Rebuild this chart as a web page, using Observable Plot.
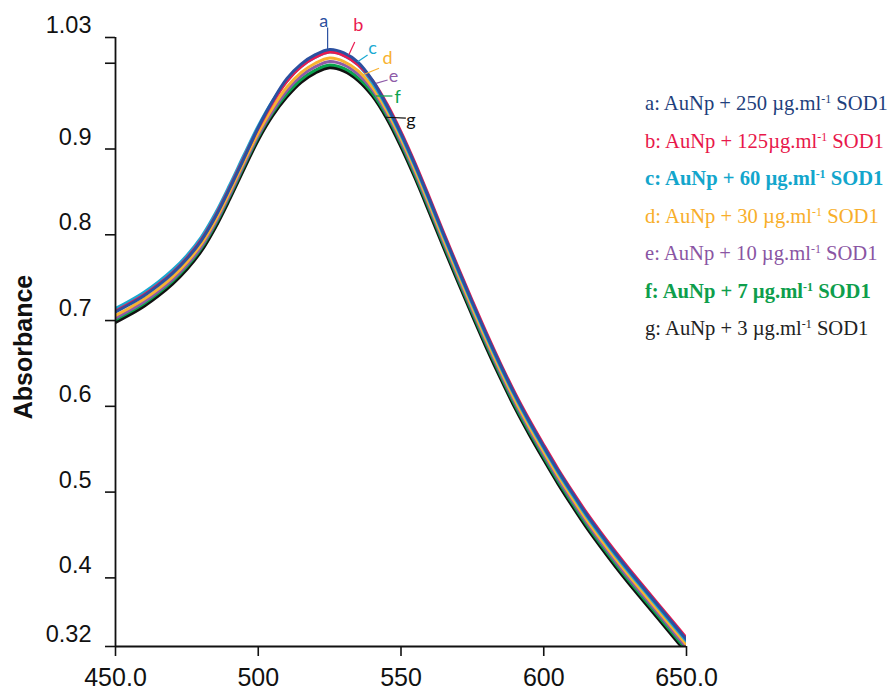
<!DOCTYPE html>
<html><head><meta charset="utf-8">
<script src="https://cdn.jsdelivr.net/npm/d3@7"></script>
<script src="https://cdn.jsdelivr.net/npm/@observablehq/plot@0.6"></script>
<style>
html,body{margin:0;padding:0;background:#fff;}
#wrap{position:relative;width:893px;height:692px;overflow:hidden;}
#legend{position:absolute;left:645px;top:85px;font-family:"Liberation Serif","Times New Roman",serif;font-size:20.6px;line-height:37.5px;white-space:nowrap;}
#legend sup{font-size:0.58em;line-height:0;vertical-align:0.6em;}
</style></head><body><div id="wrap"><div id="legend"></div></div>
<script>
// ---- data ----
const wavelengths = [450,455,460,465,470,475,480,485,490,495,500,505,510,515,520,525,530,535,540,545,550,555,560,565,570,575,580,585,590,595,600,605,610,615,620,625,630,635,640,645,650];
const seriesA = [0.710,0.719,0.729,0.741,0.755,0.772,0.793,0.821,0.854,0.889,0.925,0.956,0.982,0.999,1.010,1.016,1.012,1.001,0.980,0.951,0.918,0.881,0.841,0.800,0.760,0.721,0.683,0.647,0.613,0.582,0.553,0.525,0.499,0.474,0.451,0.429,0.408,0.388,0.368,0.348,0.328];
const seriesB = [0.711,0.720,0.730,0.742,0.756,0.773,0.794,0.822,0.855,0.890,0.924,0.954,0.979,0.996,1.007,1.013,1.009,0.998,0.980,0.953,0.920,0.883,0.843,0.802,0.762,0.723,0.685,0.649,0.615,0.584,0.555,0.527,0.501,0.476,0.453,0.431,0.410,0.390,0.370,0.350,0.330];
const seriesC = [0.714,0.723,0.733,0.745,0.759,0.776,0.797,0.825,0.858,0.893,0.927,0.956,0.979,0.996,1.007,1.013,1.009,0.998,0.977,0.949,0.916,0.879,0.839,0.798,0.758,0.719,0.681,0.645,0.611,0.580,0.551,0.523,0.497,0.472,0.449,0.427,0.406,0.386,0.366,0.346,0.326];
const seriesD = [0.706,0.715,0.725,0.737,0.751,0.768,0.789,0.817,0.850,0.885,0.919,0.948,0.972,0.989,1.000,1.006,1.002,0.991,0.972,0.945,0.912,0.875,0.835,0.794,0.754,0.715,0.677,0.641,0.607,0.576,0.547,0.519,0.493,0.468,0.445,0.423,0.402,0.382,0.362,0.342,0.322];
const seriesE = [0.703,0.712,0.722,0.734,0.748,0.765,0.786,0.814,0.847,0.882,0.916,0.944,0.968,0.985,0.996,1.002,0.998,0.987,0.969,0.942,0.909,0.872,0.832,0.791,0.751,0.712,0.674,0.638,0.604,0.573,0.544,0.516,0.490,0.465,0.442,0.420,0.399,0.379,0.359,0.339,0.319];
const seriesF = [0.701,0.710,0.720,0.732,0.746,0.763,0.784,0.812,0.845,0.880,0.914,0.942,0.964,0.981,0.992,0.998,0.994,0.983,0.965,0.939,0.906,0.869,0.829,0.788,0.748,0.709,0.671,0.635,0.601,0.570,0.541,0.513,0.487,0.462,0.439,0.417,0.396,0.376,0.356,0.336,0.316];
const seriesG = [0.698,0.707,0.717,0.729,0.743,0.760,0.781,0.809,0.842,0.877,0.911,0.939,0.961,0.978,0.989,0.995,0.991,0.980,0.962,0.936,0.903,0.866,0.826,0.785,0.745,0.706,0.668,0.632,0.598,0.567,0.538,0.510,0.484,0.459,0.436,0.414,0.393,0.373,0.353,0.333,0.313];

const seriesKeys = ["a","b","c","d","e","f","g"];
const lineColors = ["#2b50a0","#ea1a50","#19a9d2","#f8b231","#8e5ba8","#0ba34e","#111111"];
const legendColors = ["#1f3f7c","#e8174a","#13a6cc","#f8ae2a","#8a55a3","#0e9e4c","#222222"];
const legendAmounts = ["250 ","125","60 ","30 ","10 ","7 ","3 "];
const legendBold = [false,false,true,false,false,true,false];

const xTicks = [450,500,550,600,650];
const xTickLabels = ["450.0","500","550","600","650.0"];
const yTicks = [0.32,0.4,0.5,0.6,0.7,0.8,0.9,1.0,1.03];
const yTickLabels = ["0.32","0.4","0.5","0.6","0.7","0.8","0.9","","1.03"];
const yLabel = "Absorbance";

// peak annotations (data units)
const labelX = [522.9,535.0,540.0,545.3,547.4,548.8,553.5];
const labelY = [1.0485,1.0446,1.0178,1.0058,0.9845,0.960,0.934];
const pointerX1 = [524.3,533.8,538.3,542.3,545.3,547.0,551.7];
const pointerY1 = [1.0417,1.0248,1.0096,0.9941,0.9804,0.9618,0.936];
const pointerX2 = [524.3,531.7,534.8,536.5,541.2,541.2,544.7];
const pointerY2 = [1.0166,1.0096,1.0018,0.9863,0.9765,0.9618,0.937];

// ---- build ----
const allSeries = [seriesA,seriesB,seriesC,seriesD,seriesE,seriesF,seriesG];
const rowsFor = (vals, k) => wavelengths.map((w,i) => ({wl:w, A:vals[i], s:k}));
const annots = seriesKeys.map((k,i) => ({k, color: lineColors[i], lx: labelX[i], ly: labelY[i], x1: pointerX1[i], y1: pointerY1[i], x2: pointerX2[i], y2: pointerY2[i]}));

const lineMarks = [];
for (let i = allSeries.length - 1; i >= 0; i--) {
  lineMarks.push(Plot.line(rowsFor(allSeries[i], seriesKeys[i]), {
    x: "wl", y: "A", stroke: lineColors[i], strokeWidth: i === 6 ? 3.4 : 3,
    curve: "catmull-rom", clip: true
  }));
}

const chart = Plot.plot({
  width: 893, height: 692,
  marginLeft: 115, marginRight: 207, marginTop: 37, marginBottom: 46,
  style: {fontFamily: "'Liberation Sans', Arial, sans-serif", color: "#000", background: "#fff"},
  x: {domain: [450,650]},
  y: {domain: [0.32,1.03]},
  marks: [
    ...lineMarks,
    Plot.ruleX([450], {stroke: "#111", strokeWidth: 1.8}),
    Plot.ruleY([0.32], {stroke: "#111", strokeWidth: 1.8}),
    Plot.axisY(yTicks, {tickSize: 10, fill: "none", stroke: "#111", strokeWidth: 1.6, label: null}),
    Plot.axisY(yTicks, {tickSize: 0, tickPadding: 24, dy: -12, fontSize: 23.5, fill: "#111", label: null,
      tickFormat: d => yTickLabels[yTicks.indexOf(d)]}),
    Plot.axisX(xTicks, {tickSize: 10, tickPadding: 12, fontSize: 25, fill: "#111", stroke: "#111", strokeWidth: 1.6, label: null,
      tickFormat: d => xTickLabels[xTicks.indexOf(d)]}),
    Plot.text([yLabel], {frameAnchor: "left", textAnchor: "middle", rotate: -90, dx: -92, dy: 5, fontSize: 25, fontWeight: "bold", fill: "#111"}),
    Plot.link(annots, {x1: "x1", y1: "y1", x2: "x2", y2: "y2", stroke: "color", strokeWidth: 1.2}),
    Plot.text(annots, {x: "lx", y: "ly", text: "k", fill: "color", fontSize: 18, fontFamily: "Lato, 'Open Sans', sans-serif"})
  ]
});
const wrap = document.getElementById("wrap");
wrap.insertBefore(chart, wrap.firstChild);

const legend = document.getElementById("legend");
legend.innerHTML = seriesKeys.map((k,i) =>
  `<div style="color:${legendColors[i]};font-weight:${legendBold[i] ? "bold" : "normal"}">${k}: AuNp + ${legendAmounts[i]}µg.ml<sup>-1</sup> SOD1</div>`
).join("");
</script></body></html>
